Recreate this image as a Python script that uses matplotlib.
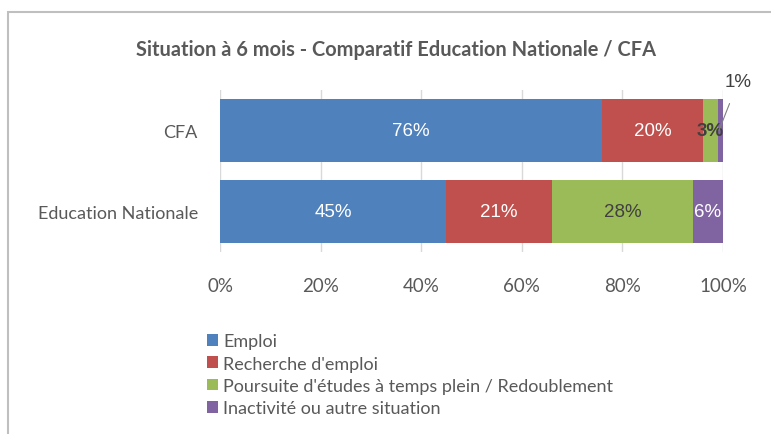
import numpy as np
import matplotlib.pyplot as plt
from matplotlib.patches import Rectangle

categories = ['CFA', 'Education Nationale']
series = ['Emploi', "Recherche d'emploi",
          "Poursuite d'études à temps plein / Redoublement",
          'Inactivité ou autre situation']
values = {
    'Emploi': [76, 45],
    "Recherche d'emploi": [20, 21],
    "Poursuite d'études à temps plein / Redoublement": [3, 28],
    'Inactivité ou autre situation': [1, 6],
}
colors = ['#4F81BD', '#C0504D', '#9BBB59', '#8064A2']
label_colors = ['white', 'white', '#404040', 'white']
ticks = [0, 20, 40, 60, 80, 100]

plt.rcParams['font.family'] = ['Lato', 'DejaVu Sans']

fig = plt.figure(figsize=(7.71, 4.35), dpi=100)
# chart frame
fig.patches.append(Rectangle((8/771, -0.1), 1.2, 1 - 13/435 + 0.1,
                             transform=fig.transFigure, fill=False,
                             edgecolor='#BFBFBF', linewidth=1.5))

ax = fig.add_axes([220/771, 1 - 252.5/435, 503/771, 161.5/435])
y = np.arange(len(categories))
left = np.zeros(len(categories))
for s, c, lc in zip(series, colors, label_colors):
    v = np.array(values[s], dtype=float)
    ax.barh(y, v, left=left, height=0.78, color=c, label=s, zorder=2)
    for i in range(len(categories)):
        if v[i] >= 2:
            weight = 'bold' if v[i] < 5 else 'normal'
            ax.text(left[i] + v[i] / 2, y[i], f'{int(v[i])}%', ha='center', va='center',
                    color=lc, fontsize=13.5, family=['Liberation Sans'], weight=weight,
                    zorder=3)
        else:
            # small slice: label outside with a leader line
            ax.annotate(f'{int(v[i])}%', xy=(left[i] + v[i] / 2 - 0.3, y[i]),
                        xytext=(left[i] + v[i] / 2 + 3.5, y[i] - 0.6),
                        ha='center', va='center', color='#404040', fontsize=13.5,
                        family=['Liberation Sans'],
                        arrowprops=dict(arrowstyle='-', color='#808080', lw=0.8,
                                        shrinkA=8, shrinkB=0))
    left += v

ax.set_xlim(0, 100)
ax.set_ylim(1.5, -0.5)
ax.set_xticks(ticks)
ax.set_xticklabels([f'{t}%' for t in ticks])
ax.set_yticks(y)
ax.set_yticklabels(categories)
ax.grid(axis='x', color='#D9D9D9', linewidth=1, zorder=0)
for sp in ax.spines.values():
    sp.set_visible(False)
ax.tick_params(axis='x', length=0, pad=18, labelsize=13.5, labelcolor='#595959')
ax.tick_params(axis='y', length=0, pad=16, labelsize=13, labelcolor='#595959')

fig.text(396/771, 1 - 50/435, 'Situation à 6 mois - Comparatif Education Nationale / CFA',
         ha='center', va='center', fontsize=14.4, weight='bold', color='#595959')

ax.legend(loc='upper left', bbox_to_anchor=(200/771, 1 - 327/435),
          bbox_transform=fig.transFigure, frameon=False, fontsize=13,
          labelcolor='#595959', handlelength=0.6, handleheight=0.6,
          handletextpad=0.3, labelspacing=0.35, borderaxespad=0)

plt.savefig('out.png', dpi=100)
